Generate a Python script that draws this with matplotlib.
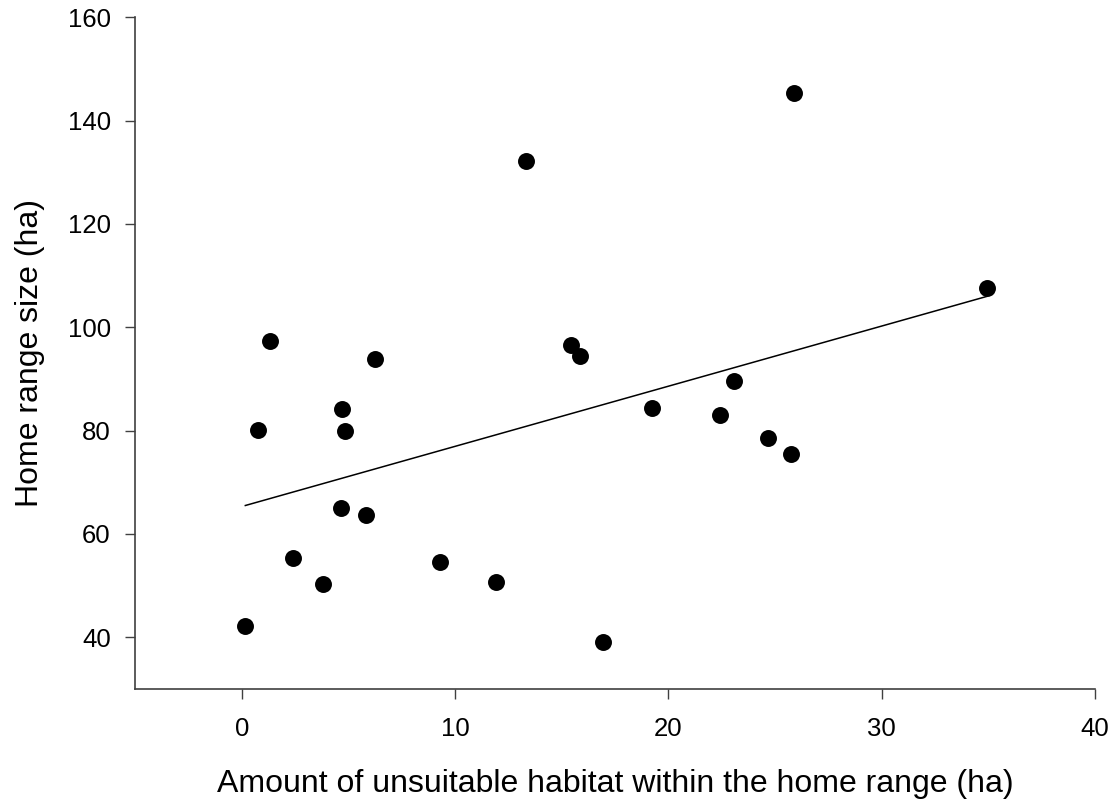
import numpy as np
import matplotlib
matplotlib.use('Agg')
import matplotlib.pyplot as plt

plt.rcParams['font.family'] = ['Liberation Sans', 'DejaVu Sans']

# Values
unsuitable_ha = [0.17, 0.75, 1.33, 2.39, 3.81, 4.64, 4.70, 4.86, 5.81, 6.23, 9.30, 11.9,
                 13.32, 15.44, 15.87, 16.93, 19.24, 22.42, 23.07, 24.65, 25.75, 25.87, 34.94]
home_range_ha = [42.1, 80.1, 97.3, 55.3, 50.3, 65.1, 84.2, 80.0, 63.7, 93.8, 54.6, 50.8,
                 132.2, 96.6, 94.5, 39.0, 84.3, 83.1, 89.7, 78.6, 75.5, 145.3, 107.7]
x_ticks = [0, 10, 20, 30, 40]
y_ticks = [40, 60, 80, 100, 120, 140, 160]

x = np.array(unsuitable_ha)
y = np.array(home_range_ha)

# least squares line over the range of the data
slope, intercept = np.polyfit(x, y, 1)
x_fit = np.array([x.min(), x.max()])
y_fit = intercept + slope * x_fit

fig = plt.figure(figsize=(11.15, 8.06), dpi=100)
ax = fig.add_axes([0.1211, 0.1452, 0.8610, 0.8333])

ax.plot(x_fit, y_fit, color='black', linewidth=1.1, zorder=2)
ax.plot(x, y, 'o', color='black', markersize=12.2, markeredgewidth=0, zorder=3)

ax.set_xlim(-5, 40)
ax.set_ylim(30, 160)
ax.set_xticks(x_ticks)
ax.set_yticks(y_ticks)

for side in ('top', 'right'):
    ax.spines[side].set_visible(False)
for side in ('left', 'bottom'):
    ax.spines[side].set_color('#404040')
    ax.spines[side].set_linewidth(1.2)

ax.tick_params(axis='x', direction='out', length=7.5, width=1, color='#404040',
               labelsize=18.5, pad=13)
ax.tick_params(axis='y', direction='out', length=7.5, width=1, color='#404040',
               labelsize=18.5, pad=10)

ax.set_xlabel('Amount of unsuitable habitat within the home range (ha)', fontsize=23, labelpad=20)
ax.set_ylabel('Home range size (ha)', fontsize=23, labelpad=16)

fig.savefig('out.png', dpi=100)
